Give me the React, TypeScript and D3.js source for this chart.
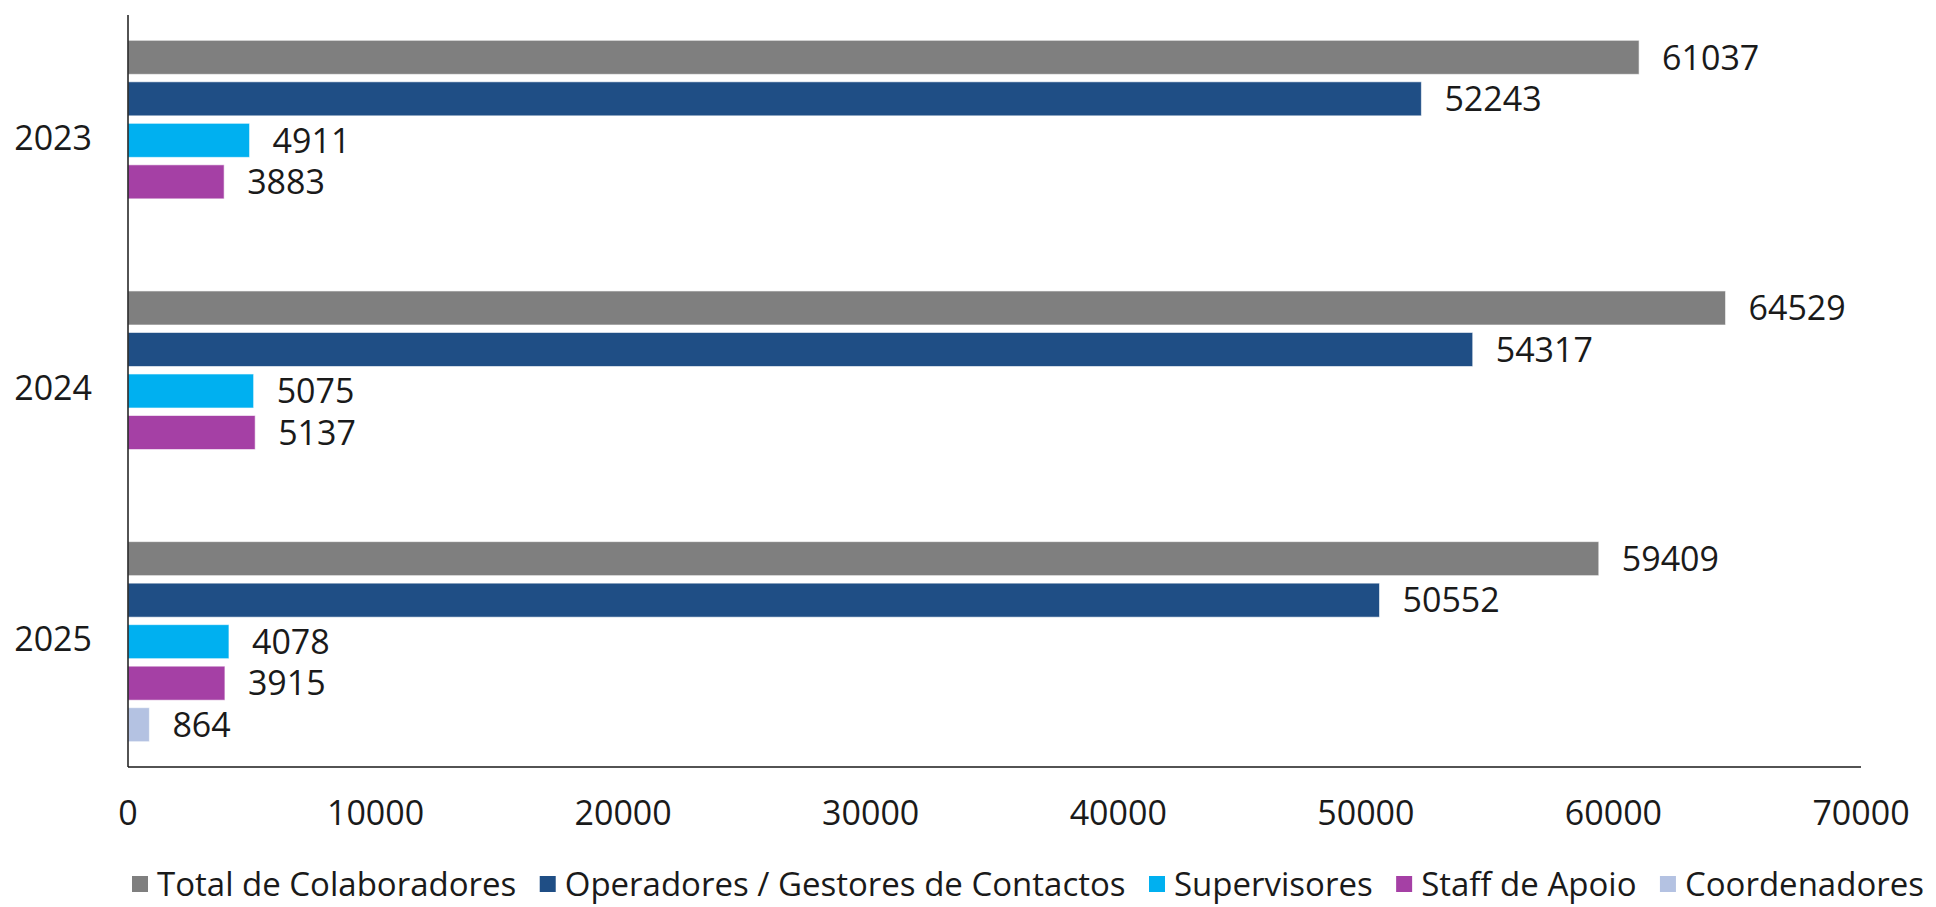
import { useEffect, useRef } from 'react';
import * as d3 from 'd3';

// Colaboradores por função, 2023-2025
const years = ['2023', '2024', '2025'];
const seriesNames = [
  'Total de Colaboradores',
  'Operadores / Gestores de Contactos',
  'Supervisores',
  'Staff de Apoio',
  'Coordenadores',
];
const totalColab = [61037, 64529, 59409];
const operadores = [52243, 54317, 50552];
const supervisores = [4911, 5075, 4078];
const staffApoio = [3883, 5137, 3915];
const coordenadores = [null, null, 864];
const xTicks = [0, 10000, 20000, 30000, 40000, 50000, 60000, 70000];

const seriesValues = [totalColab, operadores, supervisores, staffApoio, coordenadores];
const seriesColors = ['#7f7f7f', '#1f4e85', '#00b0f0', '#a540a5', '#b4c2e2'];

const FONT = "'Open Sans', 'Noto Sans', sans-serif";

export default function App() {
  const svgRef = useRef<SVGSVGElement | null>(null);

  useEffect(() => {
    if (!svgRef.current) return;

    const width = 1936;
    const height = 907;
    const left = 128;
    const right = 1861;
    const top = 15;
    const bottom = 767;

    const svg = d3.select(svgRef.current);
    svg.selectAll('*').remove();

    const x = d3.scaleLinear().domain([0, 70000]).range([left, right]);
    const y0 = d3
      .scaleBand()
      .domain(years)
      .range([top, bottom])
      .paddingInner(0.172)
      .paddingOuter(0.086);
    const y1 = d3
      .scaleBand()
      .domain(seriesNames)
      .range([0, y0.bandwidth()])
      .paddingInner(0.18)
      .paddingOuter(0.09);

    const rows = years.flatMap((yr, i) =>
      seriesNames.map((s, j) => ({ year: yr, series: s, color: seriesColors[j], value: seriesValues[j][i] }))
    ).filter(d => d.value != null) as { year: string; series: string; color: string; value: number }[];

    // bars
    svg.append('g')
      .selectAll('rect')
      .data(rows)
      .join('rect')
      .attr('x', x(0))
      .attr('y', d => (y0(d.year) as number) + (y1(d.series) as number))
      .attr('width', d => x(d.value) - x(0))
      .attr('height', y1.bandwidth())
      .attr('fill', d => d.color)
      .attr('stroke', '#ffffff')
      .attr('stroke-opacity', 0.6)
      .attr('stroke-width', 1);

    // value labels
    svg.append('g')
      .selectAll('text')
      .data(rows)
      .join('text')
      .attr('x', d => x(d.value) + 23)
      .attr('y', d => (y0(d.year) as number) + (y1(d.series) as number) + y1.bandwidth() / 2)
      .attr('dy', '0.36em')
      .attr('font-family', FONT)
      .attr('font-size', 34)
      .attr('fill', '#1a1a1a')
      .text(d => String(d.value));

    // axes lines
    svg.append('line')
      .attr('x1', left).attr('x2', left)
      .attr('y1', top).attr('y2', bottom)
      .attr('stroke', '#1a1a1a').attr('stroke-width', 1.5);
    svg.append('line')
      .attr('x1', left).attr('x2', right)
      .attr('y1', bottom).attr('y2', bottom)
      .attr('stroke', '#1a1a1a').attr('stroke-width', 1.5);

    // category labels
    svg.append('g')
      .selectAll('text')
      .data(years)
      .join('text')
      .attr('x', 92)
      .attr('y', d => (y0(d) as number) + y0.bandwidth() / 2 - 3)
      .attr('dy', '0.36em')
      .attr('text-anchor', 'end')
      .attr('font-family', FONT)
      .attr('font-size', 34)
      .attr('fill', '#1a1a1a')
      .text(d => d);

    // x tick labels
    svg.append('g')
      .selectAll('text')
      .data(xTicks)
      .join('text')
      .attr('x', d => x(d))
      .attr('y', bottom + 58)
      .attr('text-anchor', 'middle')
      .attr('font-family', FONT)
      .attr('font-size', 34)
      .attr('fill', '#1a1a1a')
      .text(d => String(d));

    // legend: text first, then spread items between x=132 and x=1924
    const legend = svg.append('g');
    const ly = 884;
    const texts = seriesNames.map(name =>
      legend.append('text')
        .attr('y', ly)
        .attr('dy', '0.36em')
        .attr('font-family', FONT)
        .attr('font-size', 33)
        .attr('fill', '#1a1a1a')
        .text(name)
    );
    const widths = texts.map(t => (t.node() as SVGTextElement).getComputedTextLength());
    const legStart = 132;
    const legEnd = 1924;
    const gap = Math.max(10, (legEnd - legStart - d3.sum(widths) - 5 * 25) / 4);
    let lx = legStart;
    seriesNames.forEach((name, i) => {
      legend.append('rect')
        .attr('x', lx)
        .attr('y', ly - 8)
        .attr('width', 16)
        .attr('height', 16)
        .attr('fill', seriesColors[i]);
      texts[i].attr('x', lx + 25);
      lx += 25 + widths[i] + gap;
    });

    svg.attr('width', width).attr('height', height);
  }, []);

  return (
    <svg
      ref={svgRef}
      width={1936}
      height={907}
      style={{ position: 'absolute', left: 0, top: 0, background: '#ffffff' }}
    />
  );
}
